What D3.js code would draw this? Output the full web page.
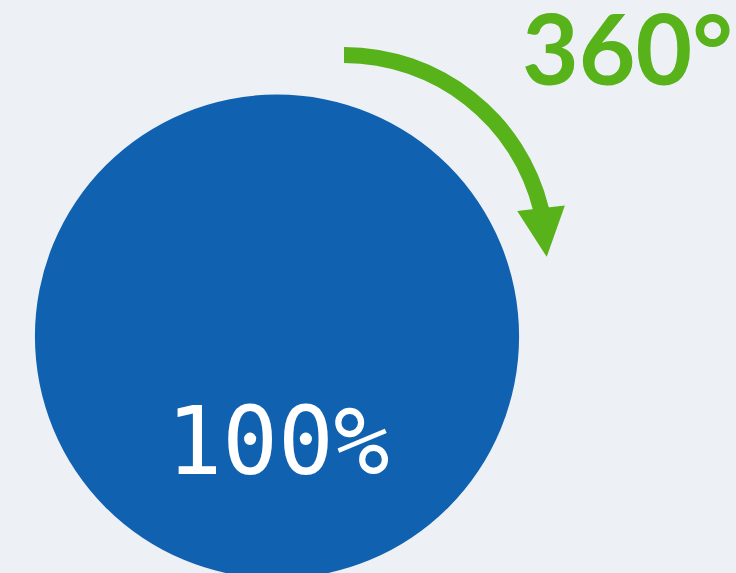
<!DOCTYPE html>
<html>
<head>
<meta charset="utf-8">
<script src="https://cdn.jsdelivr.net/npm/d3@7"></script>
<style>
  html, body { margin: 0; padding: 0; background: #edf0f5; overflow: hidden; }
</style>
</head>
<body>
<div id="chart"></div>
<script>
(function () {
  // values
  const shares = [100]
  const shareLabels = ['100%']
  const degrees = [360]
  const degreeLabels = ['360°']

  const width = 736
  const height = 573

  const svg = d3.select('#chart')
    .append('svg')
    .attr('width', width)
    .attr('height', height)

  svg.append('rect')
    .attr('width', width)
    .attr('height', height)
    .attr('fill', '#edf0f5')

  // full pie of one slice
  const radius = 242
  const pie = d3.pie().sort(null)
  const arc = d3.arc().innerRadius(0).outerRadius(radius)

  const g = svg.append('g')
    .attr('transform', 'translate(277,336.5)')

  g.selectAll('path')
    .data(pie(shares))
    .enter().append('path')
    .attr('d', arc)
    .attr('fill', '#1062b0')

  g.selectAll('text')
    .data(shareLabels)
    .enter().append('text')
    .attr('x', 1)
    .attr('y', 137)
    .attr('text-anchor', 'middle')
    .attr('font-family', 'DejaVu Sans Mono, monospace')
    .attr('font-size', 94)
    .attr('textLength', 223)
    .attr('lengthAdjust', 'spacingAndGlyphs')
    .attr('fill', '#ffffff')
    .text(d => d)

  // rotation arrow
  const angleScale = d3.scaleLinear()
    .domain([0, 360])
    .range([0, 1.333])

  const arrowR = 203
  const arrowArc = d3.arc()
    .innerRadius(arrowR - 8)
    .outerRadius(arrowR + 8)
    .startAngle(0)
    .endAngle(d => angleScale(d))

  const ag = svg.append('g')
    .attr('transform', 'translate(344,258)')

  ag.selectAll('path.shaft')
    .data(degrees)
    .enter().append('path')
    .attr('class', 'shaft')
    .attr('d', arrowArc)
    .attr('fill', '#58b21a')

  ag.selectAll('path.head')
    .data(degrees)
    .enter().append('path')
    .attr('class', 'head')
    .attr('d', 'M-24,-2 L24,-2 L0,47 Z')
    .attr('transform', d => {
      const a = angleScale(d)
      const x = arrowR * Math.sin(a)
      const y = -arrowR * Math.cos(a)
      const rot = a * 180 / Math.PI - 90
      return 'translate(' + x + ',' + y + ') rotate(' + (rot + 7) + ')'
    })
    .attr('fill', '#58b21a')

  svg.selectAll('text.deg')
    .data(degreeLabels)
    .enter().append('text')
    .attr('class', 'deg')
    .attr('x', 522)
    .attr('y', 85)
    .attr('font-family', 'Lato, Open Sans, sans-serif')
    .attr('font-weight', 700)
    .attr('font-size', 98)
    .attr('textLength', 211)
    .attr('lengthAdjust', 'spacingAndGlyphs')
    .attr('fill', '#58b21a')
    .text(d => d)
})()
</script>
</body>
</html>
